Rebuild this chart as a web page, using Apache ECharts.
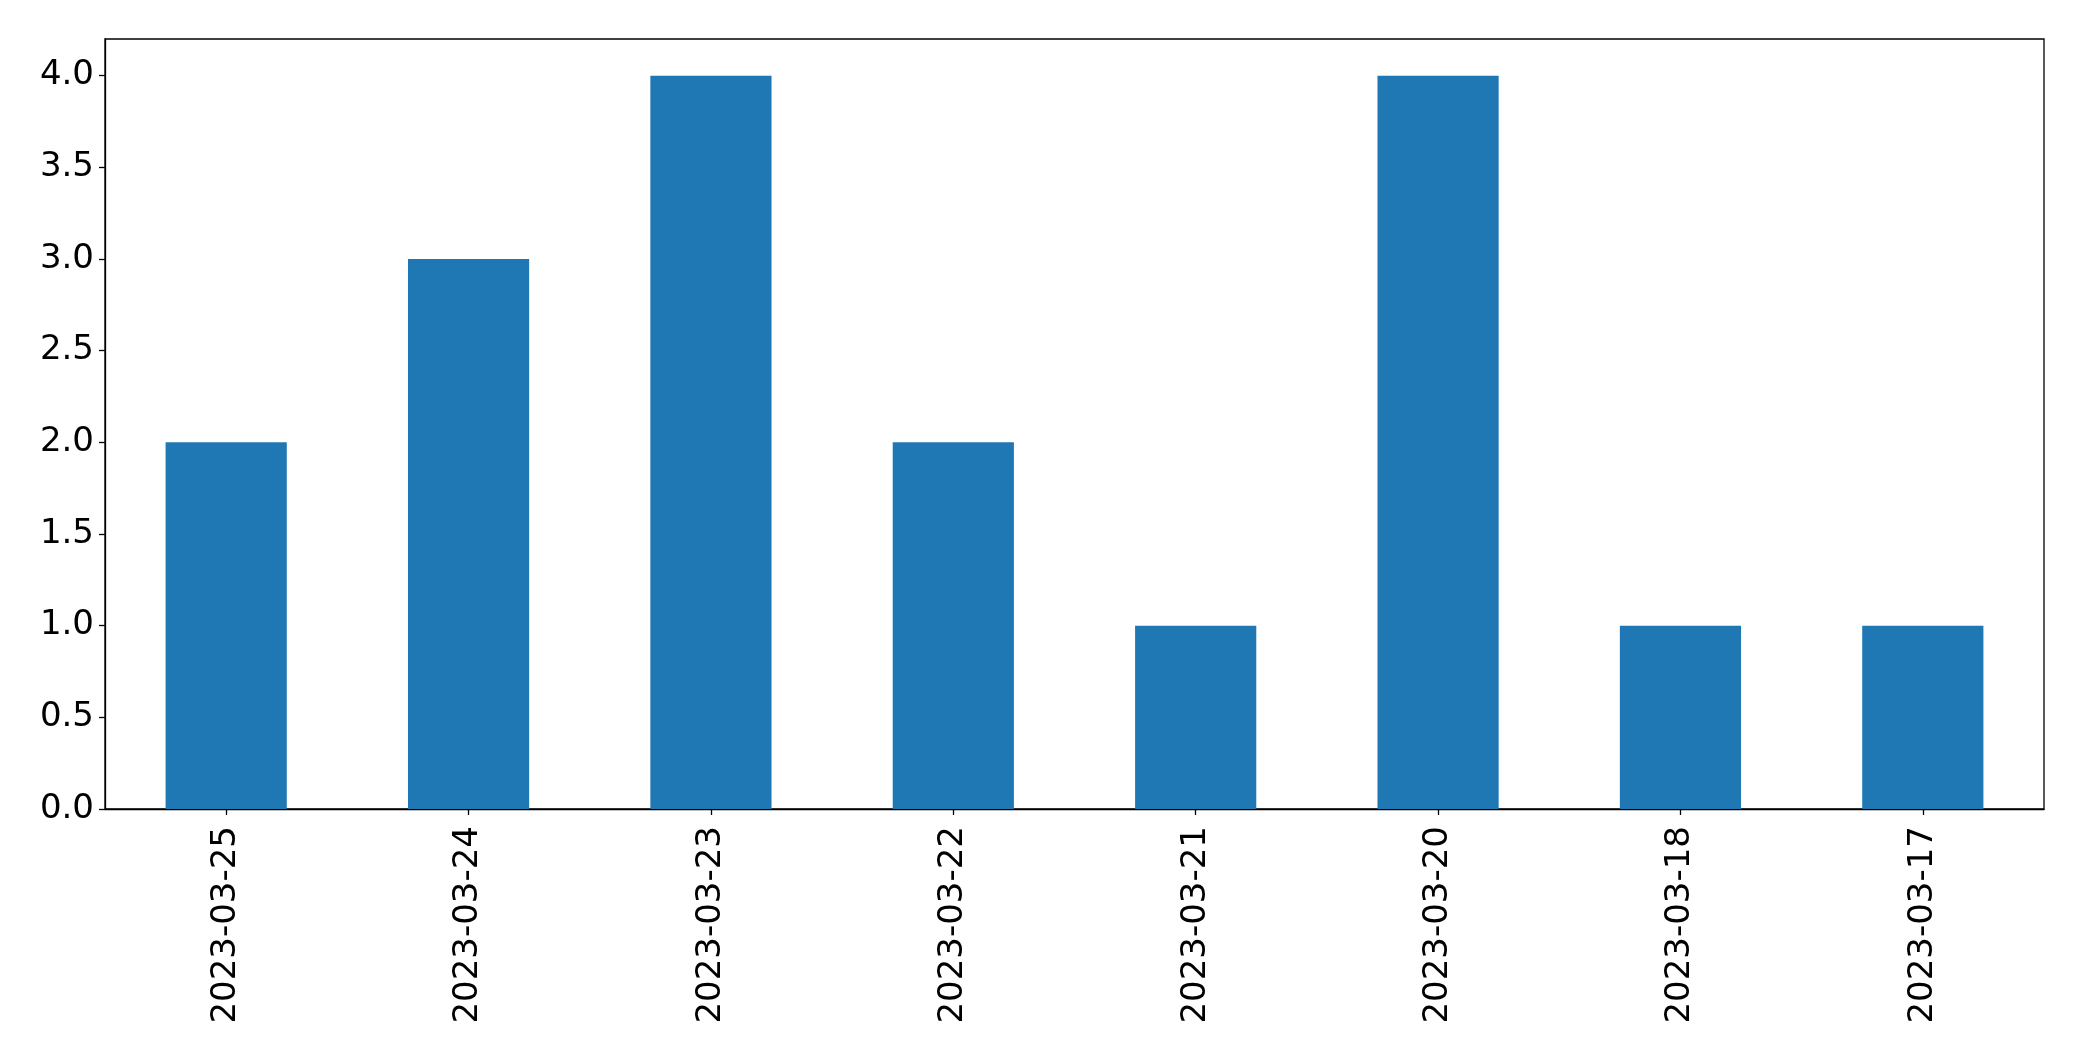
<!DOCTYPE html>
<html>
<head>
<meta charset="utf-8">
<script src="https://cdn.jsdelivr.net/npm/echarts@6/dist/echarts.min.js"></script>
<style>
html,body{margin:0;padding:0;background:#fff;}
#chart{width:2082px;height:1061px;}
</style>
</head>
<body>
<div id="chart"></div>
<script>
const categories = ['2023-03-25','2023-03-24','2023-03-23','2023-03-22','2023-03-21','2023-03-20','2023-03-18','2023-03-17'];
const counts = [2, 3, 4, 2, 1, 4, 1, 1];

const chart = echarts.init(document.getElementById('chart'), null, {renderer: 'canvas'});
const font = 'DejaVu Sans';
chart.setOption({
  animation: false,
  backgroundColor: '#ffffff',
  grid: {
    left: 105, right: 38, top: 39, bottom: 252,
    show: true, borderColor: '#000', borderWidth: 1.3, backgroundColor: 'transparent'
  },
  xAxis: {
    type: 'category',
    data: categories,
    boundaryGap: true,
    axisLine: {show: true, lineStyle: {color: '#000', width: 1.3}},
    axisTick: {show: true, alignWithLabel: true, length: 6, lineStyle: {color: '#000', width: 1.3}},
    axisLabel: {rotate: 90, margin: 17, fontFamily: font, fontSize: 34, color: '#000', interval: 0},
    splitLine: {show: false}
  },
  yAxis: {
    type: 'value',
    min: 0, max: 4.2, interval: 0.5,
    axisLine: {show: true, lineStyle: {color: '#000', width: 1.3}},
    axisTick: {show: true, length: 6, lineStyle: {color: '#000', width: 1.3}},
    axisLabel: {
      margin: 11, fontFamily: font, fontSize: 34, color: '#000', showMaxLabel: false,
      formatter: v => v.toFixed(1)
    },
    splitLine: {show: false}
  },
  series: [{
    type: 'bar',
    data: counts,
    barWidth: '50%',
    itemStyle: {color: '#1f77b4'}
  }]
});
</script>
</body>
</html>
